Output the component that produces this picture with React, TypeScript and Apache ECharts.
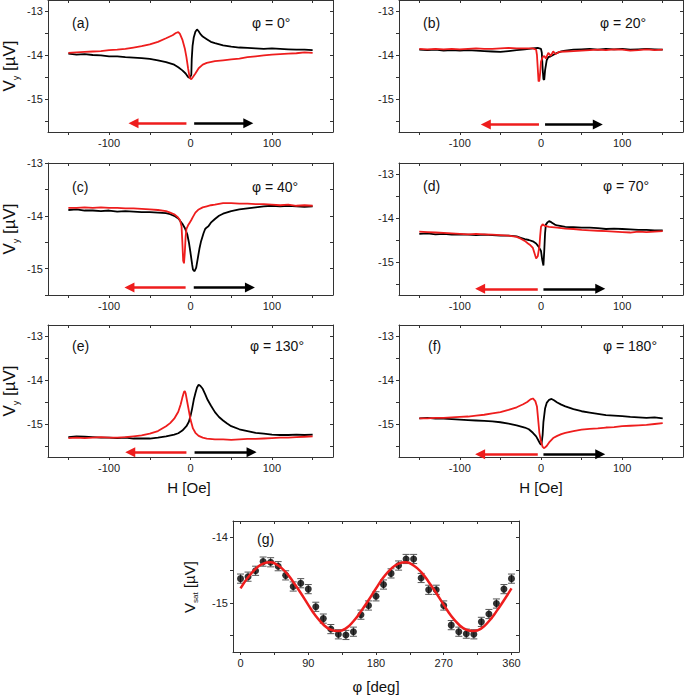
import React, { useEffect, useRef } from "react";
import * as echarts from "echarts";

// ---------- tick / label values ----------
const hTickLabels = [-100, 0, 100];
const hTicks = [-150, -100, -50, 0, 50, 100, 150];
const vTickLabels = [-15, -14, -13];
const vTicks = [-15.5, -15, -14.5, -14, -13.5, -13];
const phiTickLabels = [0, 90, 180, 270, 360];
const phiTicks = [0, 45, 90, 135, 180, 225, 270, 315, 360];
const gTickLabels = [-15, -14];
const gTicks = [-15.5, -15, -14.5, -14];

const panelLetters = ["(a)", "(b)", "(c)", "(d)", "(e)", "(f)"];
const phiTexts = ["φ = 0°", "φ = 20°", "φ = 40°", "φ = 70°", "φ = 130°", "φ = 180°"];

// ---------- hysteresis data: [H (Oe), Vy (µV)] ----------
const aUp = [[-150,-13.97],[-140,-13.99],[-130,-13.98],[-120,-14.0],[-110,-14.01],[-100,-14.03],[-90,-14.03],[-80,-14.05],[-70,-14.06],[-60,-14.07],[-50,-14.09],[-40,-14.12],[-30,-14.16],[-20,-14.22],[-15,-14.28],[-10,-14.35],[-6,-14.42],[-3,-14.5],[-1,-14.52],[1,-14.45],[1.5,-14.1],[2.5,-13.8],[4,-13.6],[6,-13.47],[8,-13.42],[10,-13.46],[12,-13.52],[15,-13.58],[20,-13.64],[25,-13.7],[30,-13.73],[40,-13.78],[50,-13.81],[60,-13.83],[70,-13.84],[80,-13.85],[90,-13.86],[100,-13.85],[110,-13.86],[120,-13.87],[130,-13.88],[140,-13.88],[150,-13.89]];
const aDown = [[150,-13.95],[140,-13.94],[130,-13.96],[120,-13.97],[110,-13.98],[100,-13.99],[90,-14.01],[80,-14.03],[70,-14.05],[60,-14.08],[50,-14.1],[40,-14.12],[30,-14.14],[20,-14.18],[15,-14.22],[10,-14.3],[6,-14.42],[3,-14.5],[1,-14.55],[-1,-14.52],[-3,-14.3],[-5,-14.05],[-7,-13.85],[-10,-13.65],[-13,-13.52],[-15,-13.48],[-18,-13.5],[-22,-13.55],[-30,-13.62],[-40,-13.7],[-50,-13.76],[-60,-13.8],[-70,-13.83],[-80,-13.86],[-90,-13.88],[-100,-13.89],[-110,-13.91],[-120,-13.92],[-130,-13.93],[-140,-13.94],[-150,-13.95]];

const bUp = [[-150,-13.88],[-140,-13.89],[-130,-13.88],[-120,-13.9],[-110,-13.89],[-100,-13.9],[-90,-13.89],[-80,-13.9],[-70,-13.91],[-60,-13.92],[-50,-13.93],[-40,-13.91],[-30,-13.89],[-20,-13.87],[-10,-13.85],[-4,-13.84],[0,-13.86],[1,-13.95],[2,-14.3],[3,-14.55],[4,-14.56],[5,-14.35],[7,-14.12],[9,-14.05],[12,-14.03],[16,-13.99],[20,-13.95],[25,-13.92],[30,-13.9],[40,-13.88],[50,-13.87],[60,-13.86],[70,-13.88],[80,-13.86],[90,-13.87],[100,-13.86],[110,-13.88],[120,-13.87],[130,-13.86],[140,-13.87],[150,-13.88]];
const bDown = [[150,-13.88],[140,-13.89],[130,-13.87],[120,-13.89],[110,-13.9],[100,-13.88],[90,-13.87],[80,-13.89],[70,-13.88],[60,-13.89],[50,-13.9],[40,-13.91],[30,-13.92],[22,-13.93],[18,-13.98],[15,-13.92],[12,-14.02],[9,-13.95],[6,-14.08],[4,-14.02],[2,-14.05],[0,-14.15],[-1,-14.4],[-2,-14.58],[-3,-14.6],[-4,-14.3],[-5,-14.0],[-6,-13.88],[-10,-13.85],[-20,-13.85],[-30,-13.85],[-40,-13.84],[-50,-13.85],[-60,-13.86],[-70,-13.86],[-80,-13.85],[-90,-13.86],[-100,-13.87],[-110,-13.86],[-120,-13.87],[-130,-13.86],[-140,-13.87],[-150,-13.86]];

const cUp = [[-150,-13.89],[-140,-13.88],[-130,-13.9],[-120,-13.9],[-110,-13.91],[-100,-13.9],[-90,-13.92],[-80,-13.91],[-70,-13.92],[-60,-13.93],[-50,-13.93],[-40,-13.94],[-30,-13.95],[-25,-13.97],[-20,-14.0],[-15,-14.05],[-10,-14.15],[-7,-14.23],[-4,-14.35],[-2,-14.5],[0,-14.7],[2,-14.92],[3,-15.02],[5,-15.05],[7,-14.98],[9,-14.8],[11,-14.62],[13,-14.48],[16,-14.33],[18,-14.25],[20,-14.22],[22,-14.2],[25,-14.13],[30,-14.06],[35,-14.0],[40,-13.96],[50,-13.91],[60,-13.88],[70,-13.86],[80,-13.84],[90,-13.82],[100,-13.81],[110,-13.82],[120,-13.81],[130,-13.82],[140,-13.83],[150,-13.82]];
const cDown = [[150,-13.81],[140,-13.8],[130,-13.81],[120,-13.79],[110,-13.8],[100,-13.79],[90,-13.78],[80,-13.78],[70,-13.77],[60,-13.77],[50,-13.76],[40,-13.76],[30,-13.79],[25,-13.8],[20,-13.82],[15,-13.84],[10,-13.88],[6,-13.94],[3,-14.02],[1,-14.08],[-1,-14.13],[-3,-14.18],[-5,-14.25],[-6,-14.4],[-7,-14.7],[-8,-14.9],[-9,-14.85],[-10,-14.5],[-11,-14.2],[-13,-14.08],[-16,-14.02],[-20,-13.97],[-25,-13.94],[-30,-13.91],[-40,-13.89],[-50,-13.88],[-60,-13.87],[-70,-13.86],[-80,-13.86],[-90,-13.85],[-100,-13.85],[-110,-13.84],[-120,-13.85],[-130,-13.84],[-140,-13.85],[-150,-13.85]];

const dUp = [[-150,-14.36],[-140,-14.35],[-130,-14.37],[-120,-14.36],[-110,-14.38],[-100,-14.37],[-90,-14.38],[-80,-14.39],[-70,-14.38],[-60,-14.39],[-50,-14.4],[-40,-14.4],[-30,-14.42],[-25,-14.45],[-20,-14.48],[-15,-14.5],[-10,-14.53],[-6,-14.58],[-3,-14.65],[0,-14.75],[1.5,-14.95],[3,-15.08],[4,-14.75],[5,-14.35],[6,-14.15],[8,-14.1],[10,-14.07],[13,-14.1],[17,-14.15],[20,-14.17],[30,-14.2],[40,-14.21],[50,-14.22],[60,-14.22],[70,-14.23],[80,-14.25],[90,-14.24],[100,-14.25],[110,-14.26],[120,-14.27],[130,-14.27],[140,-14.28],[150,-14.28]];
const dDown = [[150,-14.3],[140,-14.31],[130,-14.32],[120,-14.31],[110,-14.33],[100,-14.32],[90,-14.31],[80,-14.3],[70,-14.29],[60,-14.28],[50,-14.27],[40,-14.25],[30,-14.24],[20,-14.22],[10,-14.2],[5,-14.18],[2,-14.14],[0,-14.2],[-1,-14.4],[-2,-14.65],[-4,-14.87],[-6,-14.92],[-8,-14.8],[-10,-14.68],[-13,-14.62],[-16,-14.58],[-20,-14.52],[-25,-14.47],[-30,-14.43],[-40,-14.4],[-50,-14.39],[-60,-14.38],[-70,-14.37],[-80,-14.36],[-90,-14.37],[-100,-14.36],[-110,-14.35],[-120,-14.34],[-130,-14.33],[-140,-14.32],[-150,-14.31]];

const eUp = [[-150,-15.3],[-140,-15.28],[-130,-15.29],[-120,-15.3],[-110,-15.31],[-100,-15.31],[-90,-15.32],[-80,-15.31],[-70,-15.33],[-60,-15.33],[-50,-15.33],[-40,-15.31],[-30,-15.28],[-20,-15.24],[-15,-15.21],[-10,-15.15],[-5,-15.05],[-2,-14.95],[0,-14.82],[2,-14.65],[4,-14.45],[6,-14.3],[8,-14.17],[10,-14.11],[12,-14.13],[15,-14.2],[18,-14.32],[21,-14.45],[25,-14.58],[30,-14.73],[35,-14.84],[40,-14.92],[45,-14.99],[50,-15.05],[60,-15.12],[70,-15.16],[80,-15.2],[90,-15.22],[100,-15.24],[110,-15.25],[120,-15.25],[130,-15.24],[140,-15.25],[150,-15.24]];
const eDown = [[150,-15.28],[140,-15.29],[130,-15.3],[120,-15.31],[110,-15.31],[100,-15.32],[90,-15.33],[80,-15.34],[70,-15.34],[60,-15.35],[50,-15.36],[40,-15.35],[30,-15.35],[20,-15.33],[15,-15.31],[10,-15.27],[6,-15.2],[3,-15.1],[0,-14.9],[-2,-14.7],[-4,-14.5],[-6,-14.3],[-7,-14.25],[-8,-14.27],[-10,-14.4],[-12,-14.55],[-15,-14.72],[-20,-14.88],[-25,-14.98],[-30,-15.05],[-40,-15.16],[-50,-15.22],[-60,-15.26],[-70,-15.28],[-80,-15.3],[-90,-15.31],[-100,-15.31],[-110,-15.3],[-120,-15.31],[-130,-15.32],[-140,-15.31],[-150,-15.32]];

const fUp = [[-150,-14.87],[-140,-14.86],[-130,-14.88],[-120,-14.88],[-110,-14.89],[-100,-14.9],[-90,-14.91],[-80,-14.92],[-70,-14.93],[-60,-14.94],[-50,-14.96],[-40,-14.99],[-30,-15.03],[-20,-15.08],[-15,-15.12],[-10,-15.2],[-6,-15.28],[-3,-15.38],[-1,-15.45],[0.5,-15.47],[2,-15.25],[3,-14.95],[5,-14.65],[7,-14.52],[10,-14.45],[13,-14.43],[16,-14.46],[20,-14.51],[25,-14.56],[30,-14.6],[40,-14.66],[50,-14.71],[60,-14.74],[70,-14.77],[80,-14.8],[90,-14.81],[100,-14.82],[110,-14.84],[120,-14.85],[130,-14.86],[140,-14.85],[150,-14.87]];
const fDown = [[150,-14.98],[140,-15.0],[130,-15.02],[120,-15.03],[110,-15.04],[100,-15.05],[90,-15.07],[80,-15.08],[70,-15.1],[60,-15.11],[50,-15.13],[40,-15.16],[30,-15.2],[25,-15.23],[20,-15.27],[15,-15.32],[10,-15.42],[7,-15.5],[4,-15.55],[2,-15.52],[0,-15.4],[-2,-15.2],[-3,-15.0],[-4,-14.8],[-5,-14.6],[-7,-14.48],[-10,-14.42],[-13,-14.44],[-17,-14.5],[-22,-14.55],[-30,-14.62],[-40,-14.68],[-50,-14.73],[-60,-14.76],[-70,-14.79],[-80,-14.81],[-90,-14.83],[-100,-14.84],[-110,-14.85],[-120,-14.86],[-130,-14.86],[-140,-14.87],[-150,-14.87]];

const upCurves = [aUp, bUp, cUp, dUp, eUp, fUp];
const downCurves = [aDown, bDown, cDown, dDown, eDown, fDown];

// sweep-direction arrows (data coordinates)
const arrowLevel = [-15.55, -15.58, -15.36, -15.61, -15.64, -15.69];
const redArrowFrom = [-5, -2.5, -6, -4, -5, -4];
const redArrowTo = [-70, -68, -75, -75, -74, -75];
const blackArrowFrom = [4.5, 5, 4, 3, 5, 3];
const blackArrowTo = [71, 70, 73, 73, 75, 73];

// ---------- panel (g) ----------
const phiDeg = [0,10,20,30,40,50,60,70,80,90,100,110,120,130,140,150,160,170,180,190,200,210,220,230,240,250,260,270,280,290,300,310,320,330,340,350,360];
const vSat = [-14.63,-14.6,-14.51,-14.37,-14.38,-14.44,-14.58,-14.75,-14.7,-14.79,-15.06,-15.24,-15.4,-15.48,-15.49,-15.44,-15.18,-15.04,-14.9,-14.72,-14.55,-14.43,-14.33,-14.33,-14.62,-14.8,-14.8,-15.04,-15.34,-15.44,-15.47,-15.48,-15.29,-15.17,-15.01,-14.79,-14.63];
const vSatErr = [0.07,0.07,0.07,0.07,0.07,0.07,0.07,0.07,0.07,0.07,0.07,0.07,0.07,0.07,0.07,0.07,0.07,0.07,0.07,0.07,0.07,0.07,0.07,0.07,0.07,0.07,0.07,0.07,0.07,0.07,0.07,0.07,0.07,0.07,0.07,0.07,0.07];
const fitPhi = [0,10,20,30,40,50,60,70,80,90,100,110,120,130,140,150,160,170,180,190,200,210,220,230,240,250,260,270,280,290,300,310,320,330,340,350,360];
const fitV = [-14.78,-14.61,-14.48,-14.4,-14.38,-14.43,-14.53,-14.68,-14.85,-15.03,-15.2,-15.33,-15.41,-15.43,-15.39,-15.28,-15.13,-14.96,-14.78,-14.61,-14.48,-14.4,-14.38,-14.43,-14.53,-14.68,-14.85,-15.03,-15.2,-15.33,-15.41,-15.43,-15.39,-15.28,-15.13,-14.96,-14.78];

const FONT = '"Liberation Sans", Arial, Helvetica, sans-serif';
const AXIS = "#333";
const RED = "#ee1d1d";

const layouts = [
  { left: 48, top: 0, width: 285, height: 132, yMin: -15.75, yMax: -12.75 },
  { left: 399, top: 0, width: 284, height: 132, yMin: -15.75, yMax: -12.75 },
  { left: 48, top: 163, width: 285, height: 132, yMin: -15.5, yMax: -13 },
  { left: 399, top: 163, width: 284, height: 132, yMin: -15.75, yMax: -12.75 },
  { left: 48, top: 325, width: 285, height: 132, yMin: -15.75, yMax: -12.75 },
  { left: 399, top: 325, width: 284, height: 132, yMin: -15.75, yMax: -12.75 },
];
const gLayout = { left: 233, top: 521, width: 286, height: 131 };

function axisPair(kind: "x" | "y", grid: number, min: number, max: number, labels: number[], ticks: number[]) {
  const common = {
    type: "value",
    gridIndex: grid,
    min,
    max,
    splitLine: { show: false },
    axisLine: { show: true, onZero: false, lineStyle: { color: AXIS, width: 1 } },
  };
  const main = {
    ...common,
    position: kind === "x" ? "bottom" : "left",
    axisTick: { show: true, inside: false, length: 3, customValues: ticks, lineStyle: { color: AXIS, width: 1 } },
    axisLabel: { show: true, customValues: labels, fontSize: 11, color: "#222", fontFamily: FONT, margin: 5, hideOverlap: false, showMinLabel: true, showMaxLabel: true },
  };
  const mirror = {
    ...common,
    position: kind === "x" ? "top" : "right",
    axisTick: { show: true, inside: true, length: 3, customValues: ticks, lineStyle: { color: AXIS, width: 1 } },
    axisLabel: { show: false },
  };
  return [main, mirror];
}

function arrowLine(color: string, from: number, to: number, y: number) {
  return {
    silent: true,
    symbol: ["none", "triangle"],
    symbolSize: 10,
    label: { show: false },
    emphasis: { disabled: true },
    lineStyle: { color, width: 2.5, type: "solid" },
    itemStyle: { color },
    data: [[{ coord: [from, y] }, { coord: [to, y] }]],
  };
}

function buildOption() {
  const grid: any[] = [];
  const xAxis: any[] = [];
  const yAxis: any[] = [];
  const series: any[] = [];
  const graphic: any[] = [];

  layouts.forEach((L, i) => {
    grid.push({ left: L.left, top: L.top, width: L.width, height: L.height, containLabel: false });
    xAxis.push(...axisPair("x", i, -175, 175, hTickLabels, hTicks));
    const yTicks = vTicks.filter((v) => v >= L.yMin && v <= L.yMax);
    yAxis.push(...axisPair("y", i, L.yMin, L.yMax, vTickLabels, yTicks));
    series.push({
      type: "line",
      xAxisIndex: 2 * i,
      yAxisIndex: 2 * i,
      data: upCurves[i],
      showSymbol: false,
      symbol: "none",
      silent: true,
      lineStyle: { color: "#000", width: 1.8 },
      markLine: arrowLine("#000", blackArrowFrom[i], blackArrowTo[i], arrowLevel[i]),
    });
    series.push({
      type: "line",
      xAxisIndex: 2 * i,
      yAxisIndex: 2 * i,
      data: downCurves[i],
      showSymbol: false,
      symbol: "none",
      silent: true,
      lineStyle: { color: RED, width: 1.8 },
      markLine: arrowLine(RED, redArrowFrom[i], redArrowTo[i], arrowLevel[i]),
    });
  });

  // panel g
  const gi = layouts.length;
  grid.push({ ...gLayout, containLabel: false });
  xAxis.push(...axisPair("x", gi, -10, 370, phiTickLabels, phiTicks));
  yAxis.push(...axisPair("y", gi, -15.75, -13.75, gTickLabels, gTicks));
  series.push({
    type: "custom",
    xAxisIndex: 2 * gi,
    yAxisIndex: 2 * gi,
    silent: true,
    encode: { x: 0, y: 1 },
    data: phiDeg.map((p, k) => [p, vSat[k], vSatErr[k]]),
    renderItem: (params: any, api: any) => {
      const x = api.value(0);
      const y = api.value(1);
      const e = api.value(2);
      const t = api.coord([x, y + e]);
      const b = api.coord([x, y - e]);
      const w = 3.5;
      const st = { stroke: "#555", lineWidth: 1 };
      return {
        type: "group",
        children: [
          { type: "line", shape: { x1: t[0], y1: t[1], x2: b[0], y2: b[1] }, style: st },
          { type: "line", shape: { x1: t[0] - w, y1: t[1], x2: t[0] + w, y2: t[1] }, style: st },
          { type: "line", shape: { x1: b[0] - w, y1: b[1], x2: b[0] + w, y2: b[1] }, style: st },
        ],
      };
    },
  });
  series.push({
    type: "scatter",
    xAxisIndex: 2 * gi,
    yAxisIndex: 2 * gi,
    silent: true,
    symbol: "circle",
    symbolSize: 7,
    itemStyle: { color: "#000" },
    data: phiDeg.map((p, k) => [p, vSat[k]]),
  });
  series.push({
    type: "line",
    xAxisIndex: 2 * gi,
    yAxisIndex: 2 * gi,
    silent: true,
    smooth: true,
    showSymbol: false,
    symbol: "none",
    lineStyle: { color: RED, width: 2.5 },
    data: fitPhi.map((p, k) => [p, fitV[k]]),
  });

  // annotations
  const letterPos = [
    [72, 22.5], [423, 22.5], [72, 186.5], [423, 185.5], [72, 346], [428, 346],
  ];
  const phiPos = [
    [252, 22.5], [600, 22.5], [252, 186.5], [603, 185.5], [250, 346], [603, 346],
  ];
  panelLetters.forEach((t, i) => {
    graphic.push({
      type: "text", x: letterPos[i][0], y: letterPos[i][1], silent: true,
      style: { text: t, fontSize: 14, fontFamily: FONT, fill: "#111", align: "left", verticalAlign: "middle" },
    });
    graphic.push({
      type: "text", x: phiPos[i][0], y: phiPos[i][1], silent: true,
      style: { text: phiTexts[i], fontSize: 14, fontFamily: FONT, fill: "#111", align: "left", verticalAlign: "middle" },
    });
  });
  graphic.push({
    type: "text", x: 257, y: 539, silent: true,
    style: { text: "(g)", fontSize: 14, fontFamily: FONT, fill: "#111", align: "left", verticalAlign: "middle" },
  });

  const vyRich = {
    m: { fontSize: 17, fontFamily: FONT, fill: "#111", lineHeight: 22 },
    s: { fontSize: 9, fontFamily: FONT, fill: "#111", lineHeight: 9, verticalAlign: "bottom" },
  };
  [66, 229, 391].forEach((cy) => {
    graphic.push({
      type: "text", x: 9, y: cy, rotation: Math.PI / 2, silent: true,
      style: { text: "{m|V}{s|y}{m| [µV]}", rich: vyRich, align: "center", verticalAlign: "middle", fontFamily: FONT },
    });
  });
  graphic.push({
    type: "text", x: 189, y: 587, rotation: Math.PI / 2, silent: true,
    style: {
      text: "{m|V}{s|sat}{m| [µV]}",
      rich: {
        m: { fontSize: 15, fontFamily: FONT, fill: "#111", lineHeight: 20 },
        s: { fontSize: 8, fontFamily: FONT, fill: "#111", lineHeight: 8, verticalAlign: "bottom" },
      },
      align: "center", verticalAlign: "middle", fontFamily: FONT,
    },
  });
  [189, 541].forEach((cx) => {
    graphic.push({
      type: "text", x: cx, y: 487, silent: true,
      style: { text: "H [Oe]", fontSize: 15, fontFamily: FONT, fill: "#111", align: "center", verticalAlign: "middle" },
    });
  });
  graphic.push({
    type: "text", x: 376, y: 686, silent: true,
    style: { text: "φ [deg]", fontSize: 15, fontFamily: FONT, fill: "#111", align: "center", verticalAlign: "middle" },
  });

  return {
    animation: false,
    backgroundColor: "#fff",
    textStyle: { fontFamily: FONT },
    grid,
    xAxis,
    yAxis,
    series,
    graphic,
  };
}

export default function App() {
  const ref = useRef<HTMLDivElement>(null);
  useEffect(() => {
    if (!ref.current) return;
    const chart = echarts.init(ref.current, undefined, { renderer: "svg" });
    chart.setOption(buildOption() as any);
    return () => chart.dispose();
  }, []);
  return (
    <div
      ref={ref}
      style={{ position: "absolute", left: 0, top: 0, width: 685, height: 696, background: "#fff" }}
    />
  );
}
